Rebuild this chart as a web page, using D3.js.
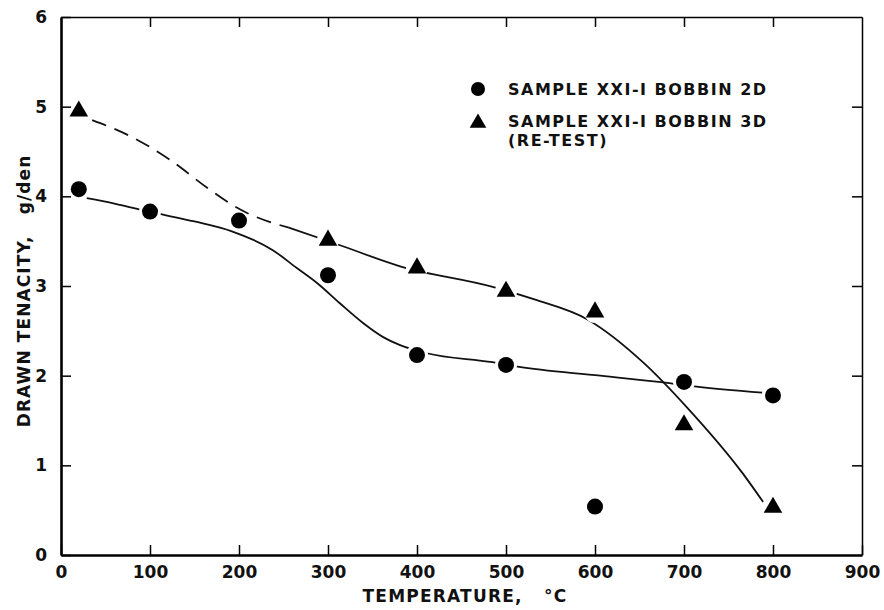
<!DOCTYPE html>
<html>
<head>
<meta charset="utf-8">
<script src="https://cdn.jsdelivr.net/npm/d3@7"></script>
<style>
  body { margin: 0; background: #fff; }
  svg text { font-family: "DejaVu Sans", sans-serif; font-weight: bold; fill: #111; }
</style>
</head>
<body>
<div id="chart"></div>
<script>
// measured points (temperature, tenacity)
const bobbin2D = [[20, 4.08], [100, 3.83], [200, 3.73], [300, 3.12], [400, 2.23], [500, 2.12], [600, 0.54], [700, 1.93], [800, 1.78]];
const bobbin3D = [[20, 4.95], [300, 3.51], [400, 3.20], [500, 2.94], [600, 2.71], [700, 1.45], [800, 0.53]];

// hand drawn fit curves
const curve2D = [[29, 3.98], [60, 3.92], [103, 3.82], [150, 3.72], [192, 3.61], [238, 3.40], [265, 3.20],
  [288, 3.03], [313, 2.81], [339, 2.59], [362, 2.43], [381, 2.34], [411, 2.25], [485, 2.15], [513, 2.10],
  [606, 2.00], [681, 1.92], [712, 1.88], [788, 1.81]];
const curve3Ddashed = [[35, 4.85], [80, 4.66], [122, 4.41], [165, 4.09], [202, 3.85], [256, 3.65]];
const curve3Dsolid = [[256, 3.65], [312, 3.46], [381, 3.22], [485, 2.99], [532, 2.85], [591, 2.63], [655, 2.14],
  [703, 1.65], [766, 0.91], [789, 0.59]];

const xTicks = [0, 100, 200, 300, 400, 500, 600, 700, 800, 900];
const yTicks = [0, 1, 2, 3, 4, 5, 6];
const legendLabels = ["SAMPLE XXI-I BOBBIN 2D", "SAMPLE XXI-I BOBBIN 3D", "(RE-TEST)"];
const xTitle = "TEMPERATURE,   °C";
const yTitle = "DRAWN TENACITY,   g/den";

const W = 884, H = 610;
const svg = d3.select("#chart").append("svg").attr("width", W).attr("height", H);

const x = d3.scaleLinear().domain([0, 900]).range([61, 862]);
const y = d3.scaleLinear().domain([0, 6]).range([555, 17]);

// axes, ticks pointing inward
svg.append("g").attr("class", "x-axis")
  .attr("transform", "translate(0," + y(0) + ")")
  .call(d3.axisBottom(x).tickValues(xTicks).tickSizeInner(-10).tickSizeOuter(0).tickPadding(11))
  .call(g => g.select(".domain").attr("stroke-width", 2.6))
  .call(g => g.selectAll(".tick text").attr("font-size", 17));

svg.append("g").attr("class", "y-axis")
  .attr("transform", "translate(" + x(0) + ",0)")
  .call(d3.axisLeft(y).tickValues(yTicks).tickFormat(d3.format("d")).tickSizeInner(-10).tickSizeOuter(0).tickPadding(14))
  .call(g => g.select(".domain").attr("stroke-width", 2.6))
  .call(g => g.selectAll(".tick text").attr("font-size", 17));

svg.append("g")
  .attr("transform", "translate(0," + y(6) + ")")
  .call(d3.axisTop(x).tickValues(xTicks.slice(1, -1)).tickSizeInner(-10).tickSizeOuter(0).tickFormat(""))
  .call(g => g.select(".domain").attr("stroke-width", 1.5));

svg.append("g")
  .attr("transform", "translate(" + x(900) + ",0)")
  .call(d3.axisRight(y).tickValues(yTicks.slice(1, -1)).tickSizeInner(-10).tickSizeOuter(0).tickFormat(""))
  .call(g => g.select(".domain").attr("stroke-width", 1.5));

svg.selectAll(".tick line").attr("stroke-width", 1.5);

// masks so each curve stops short of its own markers
const defs = svg.append("defs");
function makeMask(id, pts) {
  const m = defs.append("mask").attr("id", id).attr("maskUnits", "userSpaceOnUse")
    .attr("x", 0).attr("y", 0).attr("width", W).attr("height", H);
  m.append("rect").attr("width", W).attr("height", H).attr("fill", "white");
  m.selectAll("circle").data(pts).join("circle")
    .attr("cx", d => x(d[0])).attr("cy", d => y(d[1])).attr("r", 11).attr("fill", "black");
}
makeMask("m2D", bobbin2D);
makeMask("m3D", bobbin3D);

const line = d3.line().x(d => x(d[0])).y(d => y(d[1])).curve(d3.curveMonotoneX);

svg.append("path").datum(curve2D).attr("d", line)
  .attr("fill", "none").attr("stroke", "#111").attr("stroke-width", 1.8).attr("mask", "url(#m2D)");
svg.append("path").datum(curve3Ddashed).attr("d", line)
  .attr("fill", "none").attr("stroke", "#111").attr("stroke-width", 1.8)
  .attr("stroke-dasharray", "15,9").attr("mask", "url(#m3D)");
svg.append("path").datum(curve3Dsolid).attr("d", line)
  .attr("fill", "none").attr("stroke", "#111").attr("stroke-width", 1.8).attr("mask", "url(#m3D)");

// markers
const tri = d3.symbol().type(d3.symbolTriangle).size(150);
svg.selectAll(".dot").data(bobbin2D).join("circle").attr("class", "dot")
  .attr("cx", d => x(d[0])).attr("cy", d => y(d[1])).attr("r", 8).attr("fill", "#000");
svg.selectAll(".tri").data(bobbin3D).join("path").attr("class", "tri")
  .attr("d", tri).attr("transform", d => "translate(" + x(d[0]) + "," + y(d[1]) + ")").attr("fill", "#000");

// legend
svg.append("circle").attr("cx", 478).attr("cy", 89).attr("r", 7).attr("fill", "#000");
svg.append("path").attr("d", d3.symbol().type(d3.symbolTriangle).size(120))
  .attr("transform", "translate(478,123)").attr("fill", "#000");
svg.selectAll(".leg").data(legendLabels).join("text").attr("class", "leg")
  .attr("x", 508).attr("y", (d, i) => [95, 127, 146][i])
  .attr("font-size", 16).style("letter-spacing", "1.5px")
  .text(d => d);

// axis titles
svg.append("text").attr("x", 465).attr("y", 602).attr("text-anchor", "middle")
  .attr("font-size", 17).style("letter-spacing", "1.2px").style("white-space", "pre").text(xTitle);
svg.append("text").attr("transform", "translate(30,291) rotate(-90)").attr("text-anchor", "middle")
  .attr("font-size", 17).style("letter-spacing", "1.1px").style("white-space", "pre").text(yTitle);
</script>
</body>
</html>
